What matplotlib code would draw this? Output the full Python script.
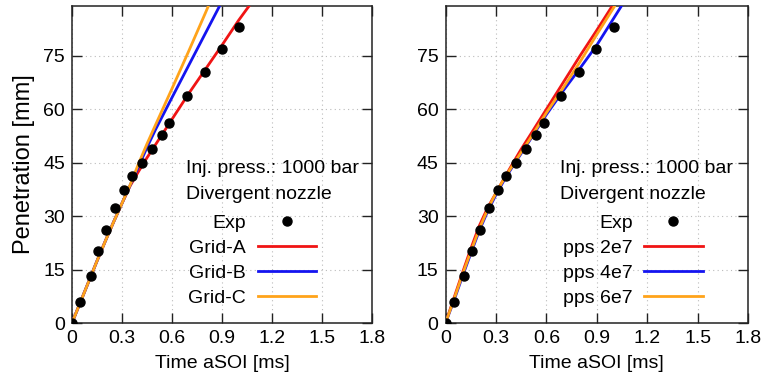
import matplotlib
matplotlib.use('Agg')
import matplotlib.pyplot as plt

plt.rcParams['font.family'] = ['Liberation Sans', 'DejaVu Sans']

# experimental penetration (same in both panels)
exp_t = [0, 0.048, 0.112, 0.157, 0.205, 0.26, 0.315, 0.362, 0.42, 0.478, 0.538, 0.584, 0.69, 0.795, 0.898, 1.0]
exp_y = [0, 6.0, 13.1, 20.2, 26.2, 32.2, 37.3, 41.3, 44.8, 48.8, 52.8, 56.2, 63.7, 70.4, 76.9, 83.2]

# left panel: grid sensitivity
grid_t_a = [0, 0.05, 0.1, 0.15, 0.2, 0.25, 0.3, 0.35, 0.4, 0.45, 0.5, 0.6, 0.7, 0.8, 0.9, 1.0, 1.07]
grid_y_a = [0, 5.8, 11.6, 17.4, 23.0, 28.4, 33.6, 38.6, 42.6, 46.4, 50.0, 57.2, 64.4, 71.2, 78.0, 85.0, 89.5]
grid_t_b = [0, 0.05, 0.1, 0.15, 0.2, 0.25, 0.3, 0.35, 0.4, 0.45, 0.5, 0.6, 0.7, 0.8, 0.9]
grid_y_b = [0, 5.8, 11.6, 17.4, 23.0, 28.4, 33.6, 38.8, 44.0, 49.3, 54.2, 63.3, 72.3, 81.3, 90.3]
grid_t_c = [0, 0.05, 0.1, 0.15, 0.2, 0.25, 0.3, 0.35, 0.4, 0.45, 0.5, 0.6, 0.7, 0.8, 0.83]
grid_y_c = [0, 5.8, 11.6, 17.4, 23.0, 28.4, 33.6, 38.9, 44.8, 50.3, 55.5, 65.8, 76.3, 87.0, 90.3]

# right panel: particles per second
pps_t_2 = [0, 0.05, 0.1, 0.15, 0.2, 0.25, 0.3, 0.35, 0.4, 0.45, 0.5, 0.6, 0.7, 0.8, 0.9, 1.0]
pps_y_2 = [0, 7.0, 14.0, 20.8, 27.2, 32.3, 36.5, 40.7, 44.8, 48.8, 52.5, 60.0, 67.5, 75.0, 82.2, 89.6]
pps_t_4 = [0, 0.05, 0.1, 0.15, 0.2, 0.25, 0.3, 0.35, 0.4, 0.5, 0.6, 0.7, 0.8, 0.9, 1.0, 1.06]
pps_y_4 = [0, 6.3, 13.0, 19.5, 25.8, 31.3, 36.0, 40.2, 44.0, 51.2, 58.5, 65.2, 71.5, 78.0, 85.5, 90.0]
pps_t_6 = [0, 0.05, 0.1, 0.15, 0.2, 0.25, 0.3, 0.35, 0.4, 0.5, 0.6, 0.7, 0.8, 0.9, 1.0, 1.02]
pps_y_6 = [0, 6.6, 13.5, 20.0, 26.3, 31.8, 36.5, 40.6, 44.3, 51.5, 59.0, 66.0, 73.3, 81.0, 88.5, 90.0]

x_ticks = [0, 0.3, 0.6, 0.9, 1.2, 1.5, 1.8]
x_ticklabels = ['0', '0.3', '0.6', '0.9', '1.2', '1.5', '1.8']
y_ticks = [0, 15, 30, 45, 60, 75]

RED, BLUE, ORANGE = '#f01414', '#1414f0', '#ffa31a'

fig = plt.figure(figsize=(7.65, 3.8), dpi=100)
axL = fig.add_axes([0.0941, 0.15, 0.3922, 0.8342])
axR = fig.add_axes([0.5824, 0.15, 0.3954, 0.8342])

panels = [
    (axL, [(grid_t_a, grid_y_a, RED, 'Grid-A'), (grid_t_b, grid_y_b, BLUE, 'Grid-B'),
           (grid_t_c, grid_y_c, ORANGE, 'Grid-C')], 0.38, (0.813, 0.052)),
    (axR, [(pps_t_2, pps_y_2, RED, 'pps 2e7'), (pps_t_4, pps_y_4, BLUE, 'pps 4e7'),
           (pps_t_6, pps_y_6, ORANGE, 'pps 6e7')], 0.378, (0.85, 0.052)),
]

for ax, series, hx, anchor in panels:
    ax.plot(exp_t, exp_y, 'o', color='black', ms=6.5, ls='none', label='Exp', zorder=5)
    for t, y, c, lab in series:
        ax.plot(t, y, color=c, lw=2.0, label=lab, zorder=3)
    ax.set_xlim(0, 1.8); ax.set_ylim(0, 89)
    ax.set_xticks(x_ticks); ax.set_xticklabels(x_ticklabels)
    ax.set_yticks(y_ticks)
    ax.tick_params(direction='in', top=True, right=True, length=7, width=1,
                   labelsize=14, pad=5, color='#222222')
    ax.grid(True, ls=(0, (1, 3)), color='#bbbbbb', lw=0.8)
    for s in ax.spines.values():
        s.set_linewidth(1.1); s.set_color('#222222')
    ax.set_xlabel('Time aSOI [ms]', fontsize=14, labelpad=6)
    ax.text(hx, 0.486, 'Inj. press.: 1000 bar', transform=ax.transAxes, fontsize=14, va='center', ha='left')
    ax.text(hx, 0.404, 'Divergent nozzle', transform=ax.transAxes, fontsize=14, va='center', ha='left')
    ax.legend(loc='lower right', bbox_to_anchor=anchor, frameon=False, markerfirst=False,
              fontsize=14, handlelength=3.0, handletextpad=0.6, labelspacing=0.38,
              borderpad=0, borderaxespad=0)

axL.set_ylabel('Penetration [mm]', fontsize=17, labelpad=6)

fig.savefig('out.png', dpi=100)
